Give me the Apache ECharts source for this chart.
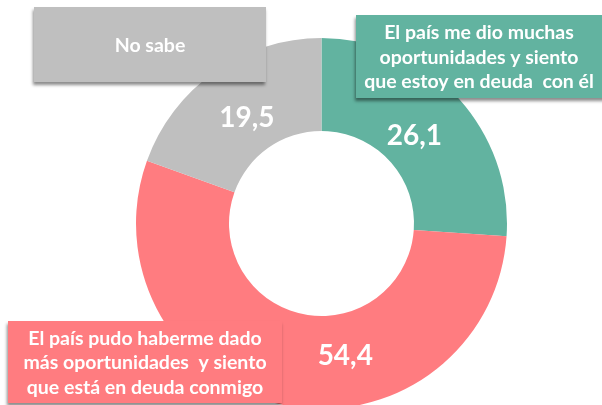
<!DOCTYPE html>
<html>
<head>
<meta charset="utf-8">
<script src="https://cdn.jsdelivr.net/npm/echarts@6/dist/echarts.min.js"></script>
<style>
    html, body {margin: 0; padding: 0; background: #fff;}
    #chart_container {width: 602px; height: 405px;}
</style>
</head>
<body>
<div id="chart_container"></div>
<script>
"use strict";

// datos del gráfico
var categories = [
    'El país me dio muchas\noportunidades y siento\nque estoy en deuda  con él',
    'El país pudo haberme dado\nmás oportunidades  y siento\nque está en deuda conmigo',
    'No sabe'
];
var values = [26.1, 54.4, 19.5];
var colors = ['#62B3A0', '#FF7C80', '#BFBFBF'];

// cajas de texto de cada categoría
var boxes = [
    {x: 356, y: 15, w: 250, h: 83},
    {x: 8, y: 321, w: 274, h: 82},
    {x: 34, y: 7, w: 232, h: 75}
];
// ajuste de las etiquetas de valor
var labelShift = [[-11, 9], [53, -6], [7, 11]];

function fmt(v) {
    return v.toFixed(1).replace('.', ',');
}

function drawChart() {
    var myChart = echarts.init(document.getElementById('chart_container'));

    var data = [];
    for (var i = 0, n = values.length; i < n; i++) {
        data.push({
            name: categories[i],
            value: values[i],
            itemStyle: {color: colors[i]}
        });
    }

    var graphics = [];
    for (var j = 0; j < boxes.length; j++) {
        var b = boxes[j];
        graphics.push({
            type: 'rect',
            z: 100,
            shape: {x: b.x, y: b.y, width: b.w, height: b.h},
            style: {
                fill: colors[j],
                shadowBlur: 3,
                shadowOffsetX: -1,
                shadowOffsetY: 3,
                shadowColor: 'rgba(0,0,0,0.45)'
            }
        });
        graphics.push({
            type: 'text',
            z: 101,
            x: b.x + b.w / 2 - (j === 0 ? 2 : 0),
            y: b.y + b.h / 2 + 1,
            style: {
                text: categories[j],
                fill: '#fff',
                font: 'bold 19.5px Lato',
                lineHeight: 24.5,
                align: 'center',
                verticalAlign: 'middle'
            }
        });
    }

    var option = {
        animation: false,
        graphic: graphics,
        series: [{
            type: 'pie',
            center: [321.5, 223.5],
            radius: [92.5, 185.5],
            startAngle: 90,
            clockwise: true,
            avoidLabelOverlap: false,
            silent: true,
            data: data,
            itemStyle: {borderWidth: 0},
            label: {
                show: true,
                position: 'inside',
                color: '#fff',
                fontFamily: 'Lato',
                fontWeight: 'bold',
                fontSize: 28,
                formatter: function (p) {
                    return fmt(p.value);
                }
            },
            labelLine: {show: false},
            labelLayout: function (p) {
                var s = labelShift[p.dataIndex];
                return {dx: s[0], dy: s[1]};
            }
        }]
    };
    myChart.setOption(option);
}

drawChart();
</script>
</body>
</html>
